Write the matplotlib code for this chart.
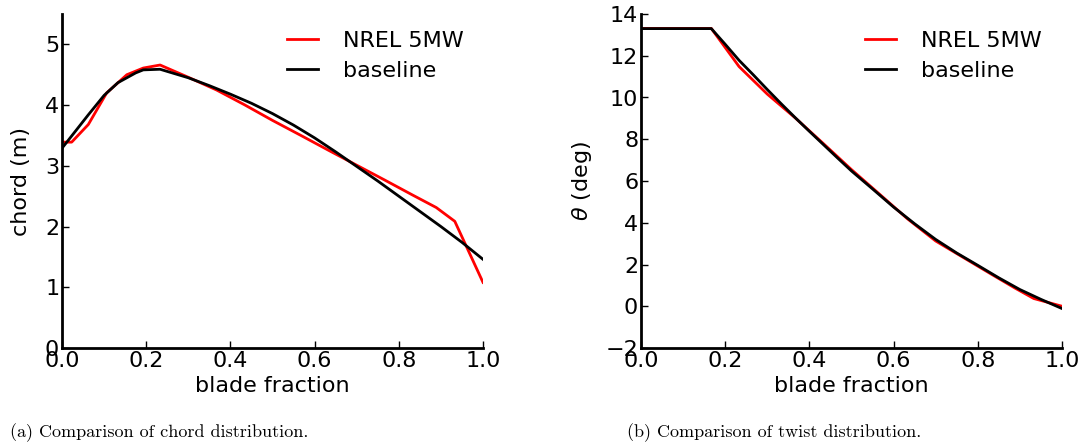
import matplotlib
matplotlib.use("Agg")
import matplotlib.pyplot as plt

# chord distribution along the blade
chord_x_nrel = [0.0, 0.023, 0.0625, 0.106, 0.154, 0.193, 0.233, 0.3, 0.367, 0.433,
                0.5, 0.567, 0.633, 0.7, 0.767, 0.833, 0.889, 0.933, 1.0]
chord_nrel = [3.39, 3.39, 3.68, 4.2, 4.5, 4.61, 4.66, 4.458, 4.249, 4.007,
              3.748, 3.502, 3.256, 3.010, 2.764, 2.518, 2.313, 2.086, 1.08]

chord_x_base = [0.0, 0.033, 0.0625, 0.1, 0.133, 0.154, 0.175, 0.193, 0.233, 0.3,
                0.35, 0.4, 0.45, 0.5, 0.55, 0.6, 0.65, 0.7, 0.75, 0.8,
                0.85, 0.9, 0.95, 1.0]
chord_base = [3.29, 3.58, 3.84, 4.16, 4.37, 4.45, 4.53, 4.58, 4.59, 4.45,
              4.32, 4.18, 4.03, 3.86, 3.67, 3.46, 3.23, 2.99, 2.75, 2.50,
              2.25, 2.00, 1.74, 1.46]

# twist distribution along the blade
twist_x_nrel = [0.0, 0.022, 0.067, 0.111, 0.167, 0.233, 0.3, 0.367, 0.433, 0.5,
                0.567, 0.633, 0.7, 0.767, 0.833, 0.889, 0.933, 1.0]
twist_nrel = [13.308, 13.308, 13.308, 13.308, 13.308, 11.480, 10.162, 9.011, 7.795, 6.544,
              5.361, 4.188, 3.125, 2.319, 1.526, 0.863, 0.370, 0.0]

twist_x_base = [0.0, 0.167, 0.2, 0.233, 0.267, 0.3, 0.333, 0.367, 0.4, 0.433,
                0.467, 0.5, 0.55, 0.6, 0.65, 0.7, 0.75, 0.8, 0.85, 0.9, 0.95, 1.0]
twist_base = [13.3, 13.3, 12.55, 11.78, 11.08, 10.38, 9.7, 9.02, 8.38, 7.75,
              7.1, 6.48, 5.62, 4.75, 3.95, 3.2, 2.55, 1.96, 1.36, 0.8, 0.33, -0.11]

fs = 16
W, H = 1086, 448

fig = plt.figure(figsize=(W / 100, H / 100), dpi=100)
ax1 = fig.add_axes([62 / W, 1 - 348 / H, 421 / W, 334 / H])
ax2 = fig.add_axes([641 / W, 1 - 348 / H, 421 / W, 334 / H])


def style(ax):
    ax.spines["top"].set_visible(False)
    ax.spines["right"].set_visible(False)
    ax.spines["left"].set_linewidth(2)
    ax.spines["bottom"].set_linewidth(2)
    ax.tick_params(direction="in", length=5, width=1, labelsize=fs, pad=2,
                   top=False, right=False)
    ax.set_xlim(0, 1)
    ax.set_xticks([0.0, 0.2, 0.4, 0.6, 0.8, 1.0])
    ax.set_xlabel("blade fraction", fontsize=fs, labelpad=4)


ax1.plot(chord_x_nrel, chord_nrel, color="red", lw=2, label="NREL 5MW")
ax1.plot(chord_x_base, chord_base, color="black", lw=2, label="baseline")
style(ax1)
ax1.set_ylim(0, 5.5)
ax1.set_yticks([0, 1, 2, 3, 4, 5])
ax1.set_ylabel("chord (m)", fontsize=fs, labelpad=10)

ax2.plot(twist_x_nrel, twist_nrel, color="red", lw=2, label="NREL 5MW")
ax2.plot(twist_x_base, twist_base, color="black", lw=2, label="baseline")
style(ax2)
ax2.set_ylim(-2, 14)
ax2.set_yticks(range(-2, 15, 2))
ax2.set_ylabel(r"$\theta$ (deg)", fontsize=fs, labelpad=8)

for ax, lx in [(ax1, 287), (ax2, 865)]:
    ax.legend(loc="upper left", bbox_to_anchor=(lx / W, 1 - 31 / H),
              bbox_transform=fig.transFigure, frameon=False, fontsize=fs,
              handlelength=1.4, handletextpad=1.1, labelspacing=0.45,
              borderpad=0, borderaxespad=0)

fig.text(10 / W, 1 - 433 / H, "(a) Comparison of chord distribution.",
         fontfamily="cmr10", fontsize=13, va="center", ha="left")
fig.text(627 / W, 1 - 433 / H, "(b) Comparison of twist distribution.",
         fontfamily="cmr10", fontsize=13, va="center", ha="left")

fig.savefig("out.png", dpi=100)
